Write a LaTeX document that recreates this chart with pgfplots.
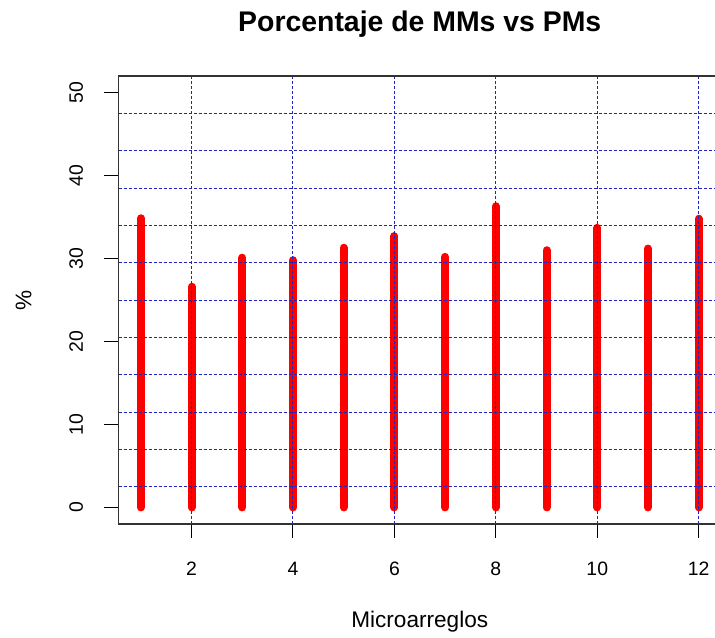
\documentclass[border=0pt]{standalone}
\usepackage{pgfplots}
\pgfplotsset{compat=1.18}
\usetikzlibrary{calc}
\usepackage{fontspec}
\setmainfont{Liberation Sans}
\definecolor{griddb}{RGB}{35,35,190}
\begin{document}
\begin{tikzpicture}
\begin{axis}[
  name=ax,
  scale only axis,
  width=301.25pt, height=224pt,
  xmin=0.56, xmax=12.44,
  ymin=-2, ymax=52,
  xtick={2,4,...,12},
  ytick={0,10,...,50},
  xtick pos=bottom, ytick pos=left,
  extra y ticks={2.5,7,11.5,16,20.5,25,29.5,34,38.5,43,47.5},
  extra y tick labels={},
  extra y tick style={grid=major, major tick length=0pt},
  xmajorgrids=true,
  grid style={griddb, line width=0.5pt, dash pattern=on 1.5pt off 1pt},
  axis on top,
  tick align=outside,
  major tick length=7pt,
  tick style={black, line width=0.5pt},
  axis line style={black!80, line width=0.75pt},
  /pgf/number format/assume math mode=true,
  ticklabel style={font=\fontsize{9.7}{11}\selectfont},
  yticklabel style={rotate=90, anchor=south, inner ysep=10.5pt},
  xticklabel style={yshift=-8.5pt},
]
\addplot[ycomb, red, line width=4pt, line cap=round, mark=none] coordinates {
  (1,34.85) (2,26.6) (3,30.1) (4,29.8) (5,31.3) (6,32.7)
  (7,30.2) (8,36.3) (9,31.0) (10,33.7) (11,31.2) (12,34.8)
};
\end{axis}
\node[anchor=base, font=\bfseries\fontsize{14.2}{16}\selectfont] at ($(ax.north)+(0,22pt)$) {Porcentaje de MMs vs PMs};
\node[anchor=base, font=\fontsize{11.3}{13}\selectfont] at ($(ax.south)+(0,-51.5pt)$) {Microarreglos};
\node[rotate=90, anchor=center, font=\fontsize{11.3}{13}\selectfont] at ($(ax.south west)+(-47.5pt,112pt)$) {\%};
\pgfresetboundingbox
\path ($(ax.south west)+(-59.25pt,-56.5pt)$) rectangle ($(ax.south west)+(298.25pt,262pt)$);
\end{tikzpicture}
\end{document}
